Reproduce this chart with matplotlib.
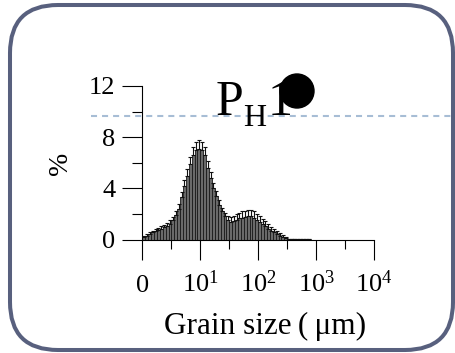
import numpy as np
import matplotlib
matplotlib.use("Agg")
import matplotlib.pyplot as plt
from matplotlib.patches import FancyBboxPatch, Ellipse
from matplotlib.lines import Line2D
from matplotlib.transforms import IdentityTransform

plt.rcParams["font.family"] = ["Liberation Serif", "DejaVu Serif"]
plt.rcParams["mathtext.fontset"] = "custom"
plt.rcParams["mathtext.rm"] = "Liberation Serif"
plt.rcParams["mathtext.it"] = "Liberation Serif"

# grain-size distribution, 20 bins per decade starting at 1 um
bin_width = 0.05
percent = [0.20, 0.30, 0.45, 0.55, 0.65, 0.75, 0.85, 0.95, 1.05, 1.25,
           1.50, 1.90, 2.40, 3.30, 4.20, 5.00, 5.90, 6.60, 7.00, 7.10,
           7.00, 6.60, 5.60, 4.80, 4.00, 3.40, 2.70, 2.20, 1.80, 1.50,
           1.40, 1.45, 1.55, 1.65, 1.70, 1.75, 1.80, 1.80, 1.70, 1.55,
           1.40, 1.20, 1.05, 0.85, 0.70, 0.55, 0.42, 0.30, 0.18, 0.08,
           0.03, 0.02, 0.02, 0.02, 0.02, 0.02, 0.02, 0.02]
percent_err = [0.10, 0.12, 0.15, 0.15, 0.18, 0.18, 0.20, 0.20, 0.22, 0.25,
               0.28, 0.30, 0.35, 0.40, 0.45, 0.50, 0.55, 0.60, 0.65, 0.65,
               0.65, 0.60, 0.55, 0.50, 0.45, 0.40, 0.35, 0.30, 0.30, 0.30,
               0.35, 0.40, 0.45, 0.45, 0.50, 0.50, 0.50, 0.50, 0.50, 0.45,
               0.45, 0.40, 0.40, 0.35, 0.30, 0.30, 0.25, 0.20, 0.15, 0.08,
               0.02, 0.0, 0.0, 0.0, 0.0, 0.0, 0.0, 0.0]
x_ticks = [0, 1, 2, 3, 4]
x_ticklabels = ["$0$", "$10^1$", "$10^2$", "$10^3$", "$10^4$"]
y_ticks = [0, 4, 8, 12]
y_minor = [2, 6, 10]
x_minor = [0.5, 1.5, 2.5, 3.5]
ref_level = 9.63

W, H = 456, 353
fig = plt.figure(figsize=(W / 100, H / 100), dpi=100)
fig.patch.set_facecolor("white")

# rounded frame around the panel
frame = FancyBboxPatch((10, 3), 443, 345, boxstyle="round,pad=0,rounding_size=48",
                       transform=IdentityTransform(), facecolor="none",
                       edgecolor="#58607e", linewidth=2.9, zorder=0)
fig.add_artist(frame)

ax = fig.add_axes([142.5 / W, (H - 239.5) / H, (374 - 142.5) / W, (239.5 - 86) / H])
ax.set_facecolor("none")

centers = (np.arange(len(percent)) + 0.5) * bin_width
ax.bar(centers, percent, width=bin_width, facecolor="#6a6a6a",
       edgecolor="#1a1a1a", linewidth=0.6, zorder=2)
ax.errorbar(centers, percent, yerr=[np.zeros(len(percent)), percent_err],
            fmt="none", ecolor="#111111", elinewidth=0.8, capsize=1.3,
            capthick=0.8, zorder=3)

ax.set_xlim(0, 4)
ax.set_ylim(0, 12)
for side in ("top", "right"):
    ax.spines[side].set_visible(False)
for side in ("left", "bottom"):
    ax.spines[side].set_linewidth(0.8)

ax.set_xticks(x_ticks)
ax.set_xticklabels([])
ax.set_xticks(x_minor, minor=True)
ax.set_yticks(y_ticks)
ax.set_yticks(y_minor, minor=True)
ax.tick_params(axis="x", which="major", direction="out", length=14.4, width=0.8)
ax.tick_params(axis="x", which="minor", direction="out", length=6.5, width=0.8)
ax.tick_params(axis="y", which="major", direction="out", length=14.4, width=0.8,
               pad=5, labelsize=19)
ax.tick_params(axis="y", which="minor", direction="out", length=7.2, width=0.8)

# x labels on a common baseline
for t, lab in zip(x_ticks, x_ticklabels):
    ax.annotate(lab, xy=(t, 0), xycoords=("data", "axes fraction"),
                xytext=(0, -52), textcoords="offset pixels",
                ha="center", va="baseline", fontsize=19)

# horizontal reference line across the panel
y_ref = ax.transData.transform((0, ref_level))[1]
fig.add_artist(Line2D([91, 451], [y_ref, y_ref], transform=IdentityTransform(),
                      color="#a7bdd5", linewidth=1.5, dashes=(2.9, 2.4), zorder=1))

fig.text(265 / W, (H - 334) / H, "Grain size\u2009(\u2009μm)", fontsize=22.5,
         ha="center", va="baseline")
fig.text(60.5 / W, (H - 163) / H, "%", fontsize=20, rotation=90,
         ha="center", va="center")

# sample tag
fig.text(216 / W, (H - 115) / H, "P", fontsize=36, va="baseline", zorder=5)
fig.text(243 / W, (H - 126) / H, "H", fontsize=23, va="baseline", zorder=5)
fig.text(268 / W, (H - 115) / H, "1", fontsize=36, va="baseline", zorder=5)
fig.add_artist(Ellipse((297 / W, (H - 91) / H), 34 / W, 34 / H,
                       transform=fig.transFigure, color="black", zorder=6))

fig.savefig("out.png", dpi=100)
